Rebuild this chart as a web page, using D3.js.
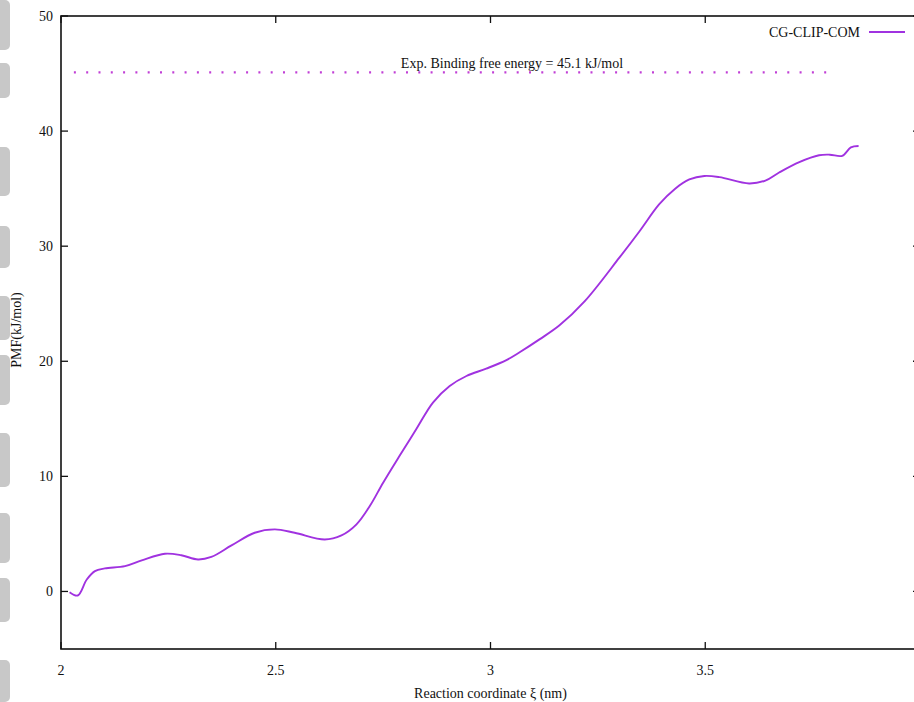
<!DOCTYPE html>
<html>
<head>
<meta charset="utf-8">
<script src="https://cdn.jsdelivr.net/npm/d3@7/dist/d3.min.js"></script>
<style>
  body { margin: 0; background: #fff; }
  svg { display: block; }
</style>
</head>
<body>
<svg id="chart" width="914" height="702" font-family="'Liberation Serif', 'Times New Roman', 'DejaVu Serif', serif"></svg>
<script>
// PMF curve
let xi = [2.02, 2.039, 2.06, 2.079, 2.102, 2.149, 2.188, 2.242, 2.28, 2.319, 2.35, 2.397, 2.451, 2.498,
  2.544, 2.614, 2.653, 2.688, 2.719, 2.75, 2.788, 2.827, 2.866, 2.905, 2.944, 2.99, 3.037, 3.067,
  3.114, 3.16, 3.219, 3.3, 3.347, 3.393, 3.43, 3.463, 3.498, 3.533, 3.602, 3.64, 3.672, 3.719,
  3.765, 3.79, 3.819, 3.839, 3.857];
let pmf = [-0.06, -0.35, 1.04, 1.77, 2.0, 2.2, 2.7, 3.28, 3.15, 2.78, 3.0, 4.0, 5.1, 5.39,
  5.1, 4.52, 4.87, 5.83, 7.42, 9.45, 11.77, 14.09, 16.41, 17.85, 18.72, 19.36, 20.1, 20.76,
  21.9, 23.1, 25.2, 29.0, 31.3, 33.65, 35.0, 35.8, 36.1, 36.0, 35.45, 35.7, 36.4, 37.3,
  37.9, 37.95, 37.85, 38.58, 38.7];

let xTicks = [2, 2.5, 3, 3.5, 4];
let yTicks = [0, 10, 20, 30, 40, 50];
let expEnergy = 45.1;
let expRange = [2.03, 3.79];
let seriesName = "CG-CLIP-COM";

// grey page strip on the left edge of the screenshot
let stripBlocks = [[0, 50], [63, 98], [147, 196], [226, 268], [296, 340], [355, 405], [433, 487], [513, 563], [578, 622], [660, 702]];

let svg = d3.select("#chart");
let W = 914;
let pLeft = 61, pTop = 16, pRight = 920, pBottom = 649;
let fs = 14;

let x = d3.scaleLinear().domain([2, 4]).range([pLeft, pRight]);
let y = d3.scaleLinear().domain([-5, 50]).range([pBottom, pTop]);

svg.append("g").selectAll("rect")
    .data(stripBlocks)
    .enter().append("rect")
    .attr("x", -6)
    .attr("y", d => d[0])
    .attr("width", 16)
    .attr("height", d => d[1] - d[0])
    .attr("rx", 5)
    .attr("fill", "#c8c8c8");

// frame
svg.append("rect")
    .attr("x", pLeft).attr("y", pTop)
    .attr("width", pRight - pLeft).attr("height", pBottom - pTop)
    .attr("fill", "none").attr("stroke", "#111").attr("stroke-width", 1.6);

// ticks (inward, mirrored)
let tl = 7;
let ticks = svg.append("g").attr("stroke", "#111").attr("stroke-width", 1.3);
yTicks.forEach(v => {
    ticks.append("line").attr("x1", pLeft).attr("x2", pLeft + tl).attr("y1", y(v)).attr("y2", y(v));
    ticks.append("line").attr("x1", pRight).attr("x2", pRight - tl).attr("y1", y(v)).attr("y2", y(v));
});
xTicks.forEach(v => {
    ticks.append("line").attr("x1", x(v)).attr("x2", x(v)).attr("y1", pBottom).attr("y2", pBottom - tl);
    ticks.append("line").attr("x1", x(v)).attr("x2", x(v)).attr("y1", pTop).attr("y2", pTop + tl);
});

svg.append("g").selectAll("text")
    .data(yTicks)
    .enter().append("text")
    .attr("x", pLeft - 8)
    .attr("y", d => y(d) + 5)
    .attr("text-anchor", "end")
    .attr("font-size", fs)
    .attr("fill", "#111")
    .text(d => d);

// the 4 label lies past the cropped right edge
svg.append("g").selectAll("text")
    .data(xTicks.filter(v => x(v) < W - 10))
    .enter().append("text")
    .attr("x", d => x(d))
    .attr("y", 675)
    .attr("text-anchor", "middle")
    .attr("font-size", fs)
    .attr("fill", "#111")
    .text(d => d);

svg.append("text")
    .attr("x", x(3))
    .attr("y", 698)
    .attr("text-anchor", "middle")
    .attr("font-size", fs)
    .attr("fill", "#111")
    .text("Reaction coordinate \u03BE (nm)");

svg.append("text")
    .attr("transform", "translate(21,330) rotate(-90)")
    .attr("text-anchor", "middle")
    .attr("font-size", fs)
    .attr("fill", "#111")
    .text("PMF(kJ/mol)");

// experimental reference line
svg.append("line")
    .attr("x1", x(expRange[0])).attr("x2", x(expRange[1]))
    .attr("y1", y(expEnergy)).attr("y2", y(expEnergy))
    .attr("stroke", "#c13fd6")
    .attr("stroke-width", 2.2)
    .attr("stroke-dasharray", "2 10.3");

svg.append("text")
    .attr("x", 512)
    .attr("y", 68)
    .attr("text-anchor", "middle")
    .attr("font-size", fs)
    .attr("fill", "#111")
    .text("Exp. Binding free energy = " + expEnergy + " kJ/mol");

// PMF curve
let line = d3.line()
    .x((d, i) => x(xi[i]))
    .y(d => y(d))
    .curve(d3.curveCatmullRom.alpha(0.5));

svg.append("path")
    .datum(pmf)
    .attr("d", line)
    .attr("fill", "none")
    .attr("stroke", "#a032e0")
    .attr("stroke-width", 1.9);

// legend
svg.append("text")
    .attr("x", 860)
    .attr("y", 37)
    .attr("text-anchor", "end")
    .attr("font-size", fs)
    .attr("fill", "#111")
    .text(seriesName);
svg.append("line")
    .attr("x1", 869).attr("x2", 905)
    .attr("y1", 32).attr("y2", 32)
    .attr("stroke", "#a032e0")
    .attr("stroke-width", 1.9);
</script>
</body>
</html>
